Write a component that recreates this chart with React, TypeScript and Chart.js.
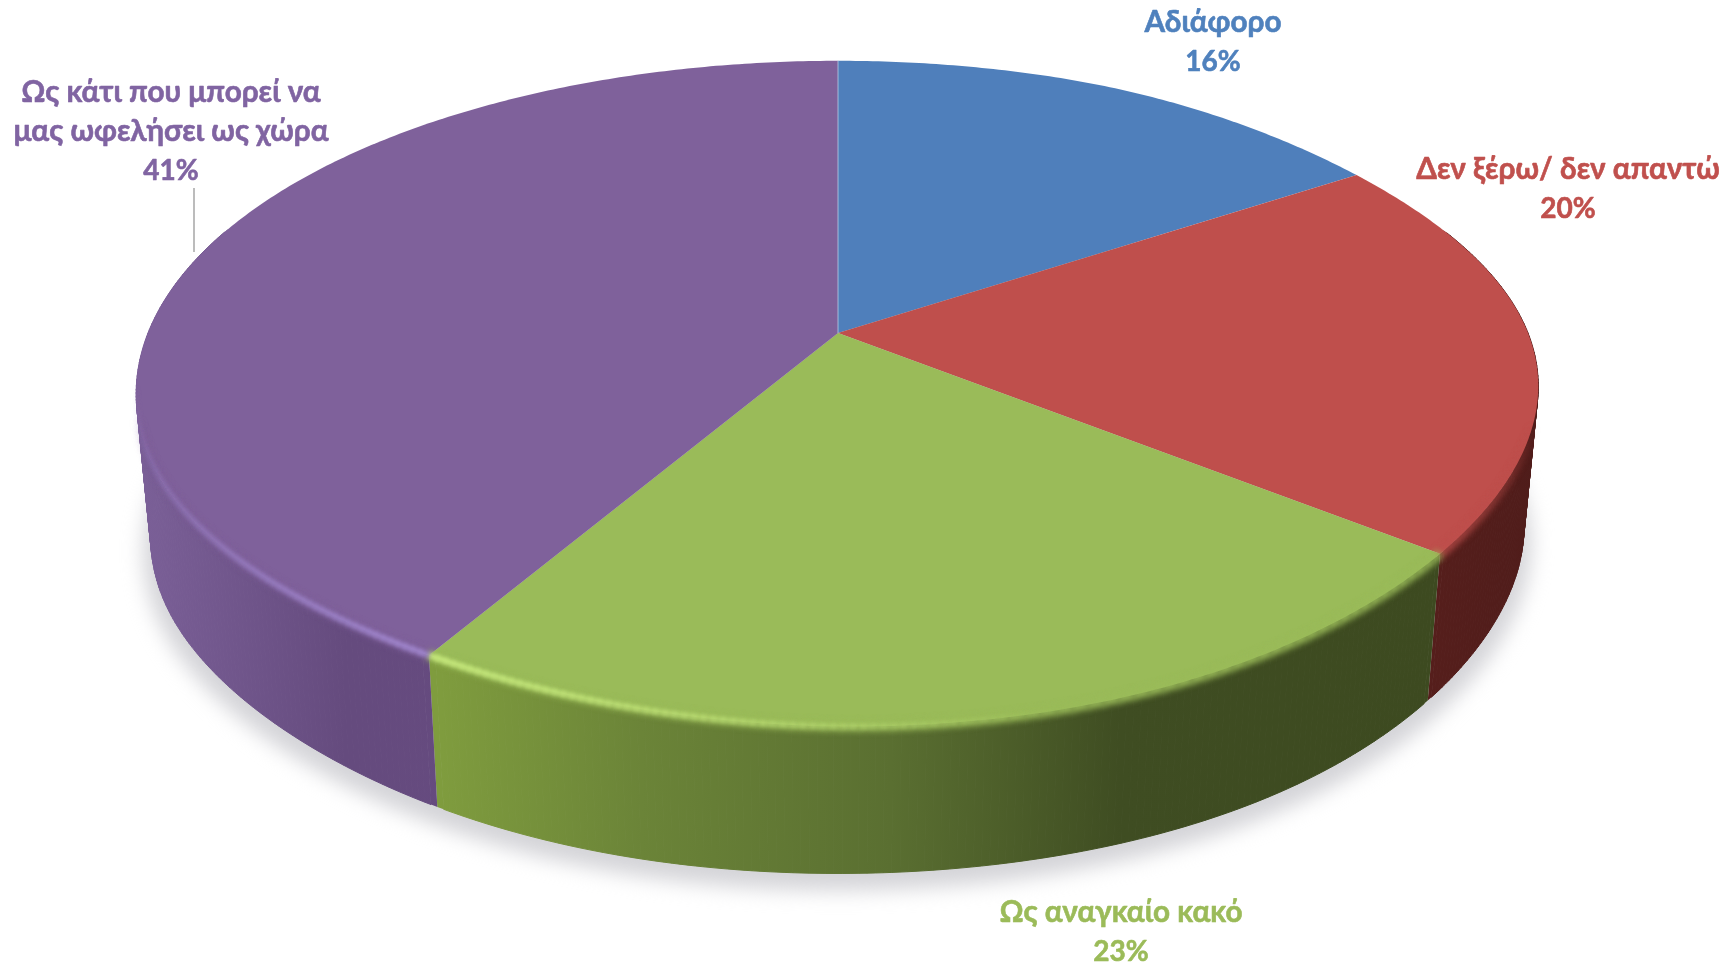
import React, { useEffect, useRef } from "react";
import { Chart, registerables } from "chart.js";

Chart.register(...registerables);

const categories = ["Αδιάφορο", "Δεν ξέρω/ δεν απαντώ", "Ως αναγκαίο κακό", "Ως κάτι που μπορεί να μας ωφελήσει ως χώρα"];
const shares = [15.8, 19.8, 22.91, 41.49];
const shareLabels = ["16%", "20%", "23%", "41%"];
const labelLines = [["Αδιάφορο"], ["Δεν ξέρω/ δεν απαντώ"], ["Ως αναγκαίο κακό"], ["Ως κάτι που μπορεί να", "μας ωφελήσει ως χώρα"]];
const faceColors = ["#4f7fbb", "#bf4f4c", "#9abb59", "#7f619b"];
const textColors = ["#4f81bd", "#c0504d", "#9bbb59", "#8064a2"];
const wallStops = [
  [[0, "#2f4d72"], [1, "#2f4d72"]],
  [[0, "#5a201d"], [1, "#4f1c1a"]],
  [[0, "#7f9c3e"], [0.2, "#6b8438"], [0.45, "#5a6f31"], [0.68, "#3f4d22"], [1, "#3d4a20"]],
  [[0, "#7b6098"], [0.3, "#654b7e"], [0.6, "#664a80"], [1, "#6d4f90"]],
];

const top = { cx: 838, cy: 333, rx: 690, ry: 322, pinchY: 1 };
const bottom = { cx: 838, cy: 472, rx: 676, ry: 328, pinchY: 0 };
const k = 0.183;
const labelLayout = [
  { x: 1213, y: 32 },
  { x: 1568, y: 179 },
  { x: 1121, y: 922 },
  { x: 171, y: 102 },
];
const LINE_H = 39;
const FAMILY = 'Lato, "Open Sans", "Noto Sans", sans-serif';
const pinchBumps = [
  [55, 35, 0.013],
  [130, 40, 0.016],
  [212, 40, 0.02],
];

const pinch = (t: number) => {
  const deg = (t / Math.PI) * 180;
  let m = 0;
  pinchBumps.forEach(([c, w, a]) => {
    if (Math.abs(deg - c) < w) m += a * Math.cos(((Math.PI / 2) * (deg - c)) / w) ** 2;
  });
  return m;
};
const project = (f: any, t: number) => {
  const u = Math.sin(t);
  const v = -Math.cos(t);
  const d = 1 - k * v;
  const m = pinch(t);
  return [f.cx + ((1 - m) * f.rx * u) / d, f.cy + ((1 - m * f.pinchY) * f.ry * v) / d];
};
const trace = (ctx: any, f: any, a: number, b: number, first: boolean) => {
  const n = Math.max(2, Math.ceil(Math.abs(b - a) / 0.01));
  for (let i = 0; i <= n; i++) {
    const [x, y] = project(f, a + ((b - a) * i) / n);
    if (i === 0 && first) ctx.moveTo(x, y);
    else ctx.lineTo(x, y);
  }
};
const D = Math.PI / 180;

const pie3d = {
  id: "pie3d",
  beforeDatasetsDraw(chart: any) {
    const ctx = chart.ctx;
    const arcs = chart.getDatasetMeta(0).data;
    const span = arcs.map((a: any) => [a.startAngle + Math.PI / 2, a.endAngle + Math.PI / 2]);

    // soft ground shadow
    ctx.save();
    ctx.filter = "blur(10px)";
    ctx.fillStyle = "#d4d4d8";
    ctx.beginPath();
    trace(ctx, { ...bottom, cy: bottom.cy + 17, rx: bottom.rx + 7 }, 0, Math.PI * 2, true);
    ctx.closePath();
    ctx.fill();
    ctx.restore();

    // side walls, swept between the two rims
    span.forEach(([a, b]: number[], i: number) => {
      const xs: number[] = [];
      for (let t = a; t <= b; t += 0.02) xs.push(project(top, t)[0]);
      const grad = ctx.createLinearGradient(Math.min(...xs), 0, Math.max(...xs), 0);
      wallStops[i].forEach(([p, c]: any) => grad.addColorStop(p, c));
      ctx.fillStyle = grad;
      ctx.strokeStyle = grad;
      ctx.lineWidth = 1;
      const s = Math.max(a, 70 * D);
      const e = Math.min(b, 290 * D);
      if (e <= s) return;
      const n = Math.ceil((e - s) / 0.01);
      for (let j = 0; j < n; j++) {
        const t0 = s + ((e - s) * j) / n;
        const t1 = s + ((e - s) * (j + 1)) / n;
        const p = [project(top, t0), project(top, t1), project(bottom, t1), project(bottom, t0)];
        ctx.beginPath();
        ctx.moveTo(p[0][0], p[0][1]);
        for (let q = 1; q < 4; q++) ctx.lineTo(p[q][0], p[q][1]);
        ctx.closePath();
        ctx.fill();
        if (j > 0 && j < n - 1) ctx.stroke();
      }
    });

    // top faces, one per slice, from the angles computed by the pie controller
    span.forEach(([a, b]: number[], i: number) => {
      ctx.fillStyle = faceColors[i];
      ctx.beginPath();
      ctx.moveTo(top.cx, top.cy);
      trace(ctx, top, a, b, false);
      ctx.closePath();
      ctx.fill();
    });

    // soft bevel on the front rim, fading out towards the silhouette
    ctx.save();
    ctx.filter = "blur(3px)";
    ctx.lineWidth = 9;
    span.forEach(([a, b]: number[], i: number) => {
      const s = Math.max(a, 105 * D);
      const e = Math.min(b, 255 * D);
      if (e <= s) return;
      ctx.strokeStyle = faceColors[i];
      const n = Math.ceil((e - s) / 0.02);
      for (let j = 0; j < n; j++) {
        const t0 = s + ((e - s) * j) / n;
        const t1 = s + ((e - s) * (j + 1.1)) / n;
        const deg = t0 / D;
        ctx.globalAlpha = Math.min(1, (deg - 105) / 25, (255 - deg) / 25);
        ctx.beginPath();
        trace(ctx, top, t0, t1, true);
        ctx.stroke();
      }
    });
    ctx.restore();

    // highlight
    ctx.save();
    ctx.filter = "blur(2px)";
    ctx.lineWidth = 5;
    const junction = span[2][1];
    const glow = (from: number, to: number, rgb: string, peak: number) => {
      const n = Math.ceil(Math.abs(to - from) / 0.012);
      for (let j = 0; j < n; j++) {
        const t0 = from + ((to - from) * j) / n;
        const t1 = from + ((to - from) * (j + 1.3)) / n;
        ctx.strokeStyle = `rgba(${rgb},${peak * (1 - j / n)})`;
        ctx.beginPath();
        trace(ctx, top, t0, t1, true);
        ctx.stroke();
      }
    };
    glow(junction, junction - 46 * D, "205,240,130", 0.95);
    glow(junction, junction + 50 * D, "170,145,220", 0.8);
    ctx.restore();

    // thin seam on the top face
    ctx.lineWidth = 1;
    ctx.strokeStyle = "rgba(190,210,235,0.75)";
    ctx.beginPath();
    ctx.moveTo(top.cx, top.cy);
    ctx.lineTo(project(top, span[0][0])[0], project(top, span[0][0])[1]);
    ctx.stroke();

    // leader line
    ctx.strokeStyle = "#a6a6a6";
    ctx.lineWidth = 1.5;
    ctx.beginPath();
    ctx.moveTo(194, 188);
    ctx.lineTo(194, 252);
    ctx.stroke();

    // labels
    ctx.textAlign = "center";
    ctx.textBaseline = "alphabetic";
    ctx.lineJoin = "round";
    ctx.lineWidth = 0.6;
    labelLines.forEach((lines, i) => {
      ctx.fillStyle = textColors[i];
      ctx.strokeStyle = textColors[i];
      const p = labelLayout[i];
      [...lines, shareLabels[i]].forEach((s, j) => {
        ctx.font = `bold ${j === lines.length ? 28 : 29.7}px ${FAMILY}`;
        ctx.fillText(s, p.x, p.y + j * LINE_H);
        ctx.strokeText(s, p.x, p.y + j * LINE_H);
      });
    });
    return false;
  },
};

export default function App() {
  const ref = useRef<HTMLCanvasElement>(null);
  useEffect(() => {
    const chart = new Chart(ref.current as any, {
      type: "pie",
      data: { labels: categories, datasets: [{ data: shares, backgroundColor: faceColors, borderWidth: 0 }] },
      options: {
        responsive: false,
        animation: false,
        rotation: 0,
        plugins: { legend: { display: false }, tooltip: { enabled: false } },
      } as any,
      plugins: [pie3d as any],
    });
    return () => chart.destroy();
  }, []);
  return (
    <div style={{ position: "fixed", left: 0, top: 0, width: 1728, height: 966, background: "#fff", overflow: "hidden" }}>
      <canvas ref={ref} width={1728} height={966} style={{ display: "block", width: 1728, height: 966 }} />
    </div>
  );
}
